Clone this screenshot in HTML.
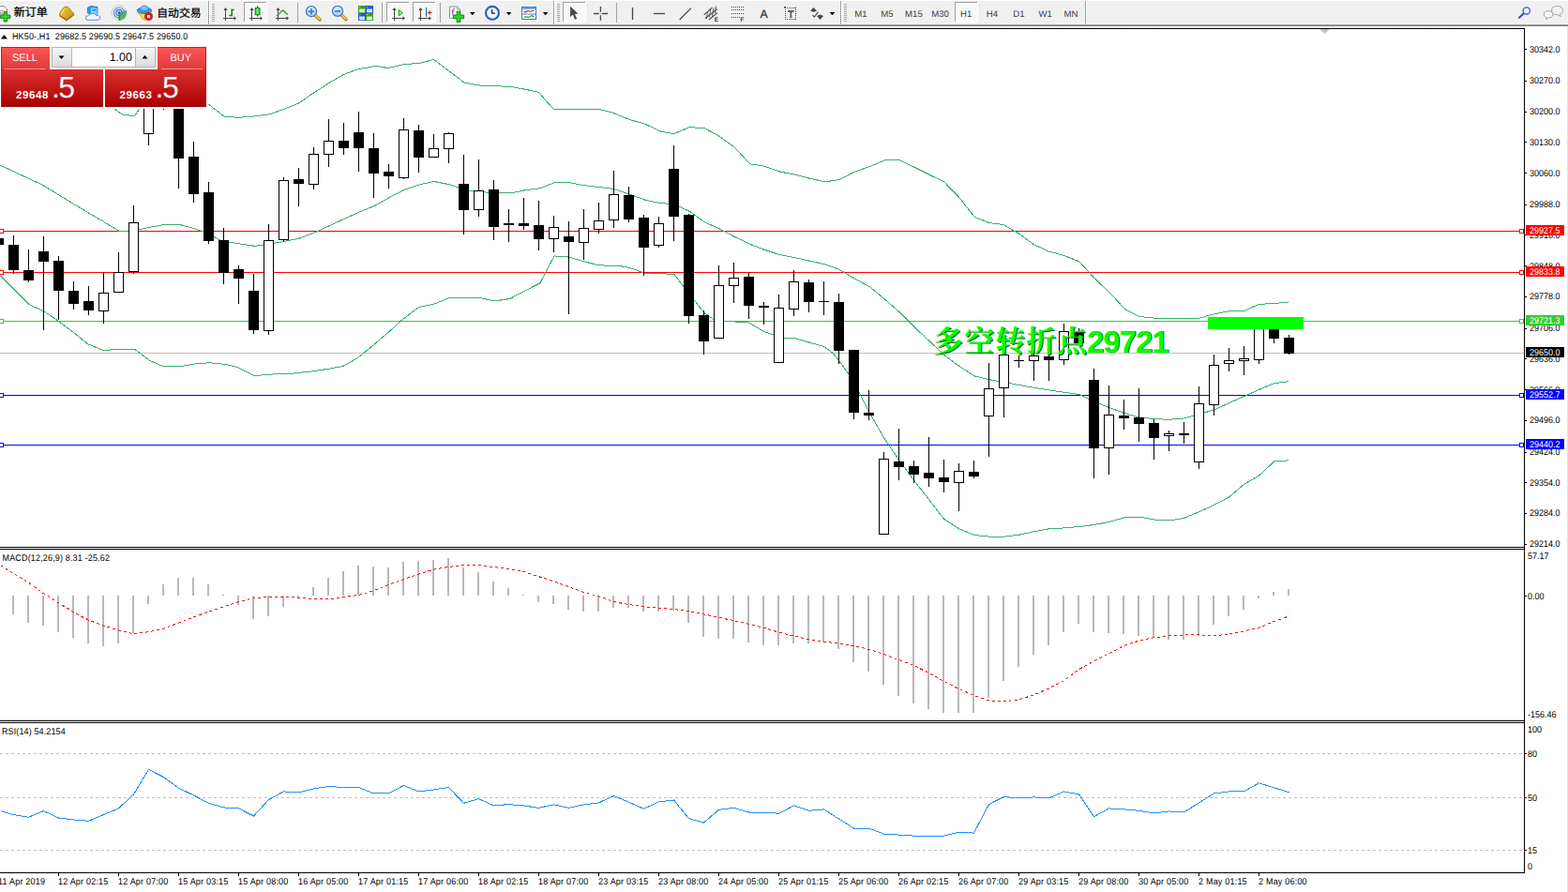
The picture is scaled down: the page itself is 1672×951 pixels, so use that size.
<!DOCTYPE html>
<html><head><meta charset="utf-8"><title>HK50 H1</title>
<style>
html,body{margin:0;padding:0;background:#fff;}
body{width:1672px;height:951px;overflow:hidden;position:relative;font-family:"Liberation Sans",sans-serif;}
#tb{position:absolute;left:0;top:0;width:1672px;height:30px;background:#fff;}
#tbbg{position:absolute;left:0;top:1px;width:1672px;height:25px;background:#f0f0f0;}
#tbsh{position:absolute;left:0;top:26px;width:1672px;height:2px;background:linear-gradient(#b4b4b4,#666666);}
svg{position:absolute;left:0;top:0;}
text{white-space:pre;text-rendering:geometricPrecision;}
</style></head><body>
<div id="tb"><div id="tbbg"></div><div id="tbsh"></div></div>
<svg id="chart" width="1672" height="951" viewBox="0 0 1672 951">
<g shape-rendering="crispEdges">
<rect x="0" y="246" width="1625" height="1" fill="#ff0000"/>
<rect x="0" y="290" width="1625" height="1" fill="#ff0000"/>
<rect x="0" y="342" width="1625" height="1" fill="#32cd32"/>
<rect x="0" y="376" width="1625" height="1" fill="#c0c0c0"/>
<rect x="0" y="421" width="1625" height="1" fill="#0000ff"/>
<rect x="0" y="474" width="1625" height="1" fill="#0000ff"/>
</g>
<polyline fill="none" shape-rendering="crispEdges" stroke="#38b070" stroke-width="1" points="121.9,115.9 130.1,121.8 143.4,123.9 147.8,117.4 158.5,100.5"/>
<polyline fill="none" shape-rendering="crispEdges" stroke="#38b070" stroke-width="1" points="206.5,96.5 222.0,110.9 239.1,124.2 253.8,125.3 270.5,124.0 287.7,121.8 302.5,116.5 318.6,110.0 334.5,99.0 354.0,86.5 366.5,79.5 380.5,74.1 401.1,70.3 413.8,72.6 430.0,68.8 447.6,67.3 462.4,63.5 478.5,75.5 494.8,87.9 509.5,90.9 526.5,91.7 544.8,92.4 558.5,95.0 574.3,98.2 590.5,116.8 606.5,116.8 622.5,116.8 640.5,116.8 653.8,120.3 671.5,127.7 686.2,131.5 705.4,140.4 718.6,142.7 734.8,135.7 751.0,136.5 767.2,145.4 783.4,157.2 799.6,174.8 813.8,176.8 831.4,183.0 847.6,186.2 862.5,190.0 880.0,193.9 894.8,191.5 911.0,183.3 927.2,177.7 943.4,170.9 959.5,170.9 974.5,178.0 990.5,186.0 1006.7,193.9 1022.9,210.6 1039.1,231.3 1055.3,237.7 1070.0,239.5 1086.2,248.9 1102.4,260.7 1118.6,268.1 1134.8,272.5 1151.0,279.0 1167.2,296.9 1183.4,312.3 1199.6,329.6 1215.0,337.5 1230.5,339.1 1246.5,339.1 1262.5,339.1 1278.7,339.1 1294.9,334.7 1311.0,331.7 1327.2,331.3 1342.3,324.3 1358.5,323.6 1374.5,321.8"/>
<polyline fill="none" shape-rendering="crispEdges" stroke="#38b070" stroke-width="1" points="0.5,176.3 14.5,182.8 30.5,190.3 44.7,196.9 62.5,207.7 78.5,217.5 94.5,227.0 110.5,236.5 127.2,246.4 142.5,246.4 158.5,242.5 174.3,239.6 192.0,239.6 206.5,243.5 222.5,249.0 236.1,256.7 254.5,259.8 271.5,262.3 286.5,260.5 302.5,257.5 318.5,254.4 336.3,247.6 350.5,241.0 366.5,233.7 382.5,226.3 400.5,219.0 414.5,211.0 430.0,202.8 447.6,196.9 462.4,193.4 480.0,196.9 494.8,202.2 509.5,204.3 527.2,205.8 544.8,205.8 559.5,202.8 575.8,200.8 590.5,194.9 606.7,194.6 621.4,197.5 638.5,199.5 653.8,201.3 671.5,207.2 687.7,213.1 703.9,216.7 718.6,217.5 736.3,225.8 751.0,236.7 766.5,243.5 782.5,252.0 799.6,260.3 814.5,266.0 831.4,271.6 847.6,274.6 862.5,278.0 880.0,281.9 894.8,287.2 911.0,296.9 927.2,305.5 943.4,319.0 959.5,333.0 975.8,349.5 992.0,364.5 1006.7,378.5 1024.4,391.5 1039.1,400.9 1055.3,404.8 1071.5,407.7 1087.7,410.6 1102.4,413.3 1118.6,416.0 1134.8,418.3 1151.0,420.5 1167.2,428.5 1183.4,434.7 1198.8,440.5 1215.0,445.0 1230.5,446.6 1246.5,447.3 1262.5,446.0 1278.7,441.5 1294.9,436.9 1311.0,429.5 1327.2,422.3 1342.3,415.5 1358.5,408.7 1374.5,406.7"/>
<polyline fill="none" shape-rendering="crispEdges" stroke="#38b070" stroke-width="1" points="0.5,293.8 14.5,308.0 31.4,324.8 47.6,332.1 62.4,342.4 78.5,354.5 93.3,366.6 111.0,373.9 124.2,372.2 143.4,372.2 159.5,384.3 174.3,390.7 192.0,390.7 212.5,387.2 224.4,386.9 240.5,388.4 252.3,391.3 271.5,400.8 283.3,399.3 296.5,398.8 309.8,398.4 322.5,397.0 336.3,395.5 350.5,393.2 365.7,390.5 380.5,382.2 398.1,368.0 414.5,354.0 427.0,342.4 446.2,327.7 463.8,323.9 478.5,317.7 494.5,317.7 512.4,317.7 527.2,320.9 543.4,318.6 558.5,310.7 575.8,301.8 591.0,272.9 606.7,274.1 622.9,278.8 638.8,282.9 659.7,283.3 672.0,285.6 687.7,291.3 703.9,291.5 719.0,292.6 735.0,313.5 751.0,333.6 762.8,341.8 774.6,342.4 798.1,343.9 815.2,353.8 832.9,359.8 847.6,360.7 862.5,365.0 878.5,369.5 888.9,376.9 905.1,398.9 918.3,422.4 927.2,440.1 943.4,468.1 959.5,491.7 975.8,513.7 992.0,534.4 1006.7,553.5 1022.9,563.8 1039.1,570.6 1055.3,572.1 1071.5,572.1 1086.2,570.3 1102.4,566.8 1118.6,563.8 1134.8,562.9 1151.0,561.5 1167.2,559.4 1183.4,556.3 1198.5,551.9 1218.5,551.8 1230.5,554.0 1246.5,555.0 1262.5,552.4 1278.5,545.8 1294.5,538.4 1310.5,530.0 1326.5,516.4 1342.5,507.1 1358.8,491.9 1374.5,490.8"/>
<g shape-rendering="crispEdges">
<rect x="-2" y="250" width="1" height="12" fill="#000"/>
<rect x="-7" y="254" width="11" height="7" fill="#000"/>
<rect x="14" y="251" width="1" height="41" fill="#000"/>
<rect x="9" y="261" width="11" height="27" fill="#000"/>
<rect x="30" y="266" width="1" height="35" fill="#000"/>
<rect x="25" y="288" width="11" height="11" fill="#000"/>
<rect x="46" y="252" width="1" height="100" fill="#000"/>
<rect x="41" y="268" width="11" height="11" fill="#000"/>
<rect x="62" y="273" width="1" height="68" fill="#000"/>
<rect x="57" y="278" width="11" height="32" fill="#000"/>
<rect x="78" y="300" width="1" height="30" fill="#000"/>
<rect x="73" y="310" width="11" height="14" fill="#000"/>
<rect x="94" y="305" width="1" height="31" fill="#000"/>
<rect x="89" y="321" width="11" height="10" fill="#000"/>
<rect x="110" y="291" width="1" height="54" fill="#000"/>
<rect x="105" y="312" width="11" height="20" fill="#000"/>
<rect x="106" y="313" width="9" height="18" fill="#fff"/>
<rect x="126" y="269" width="1" height="43" fill="#000"/>
<rect x="121" y="290" width="11" height="22" fill="#000"/>
<rect x="122" y="291" width="9" height="20" fill="#fff"/>
<rect x="142" y="219" width="1" height="73" fill="#000"/>
<rect x="137" y="237" width="11" height="53" fill="#000"/>
<rect x="138" y="238" width="9" height="51" fill="#fff"/>
<rect x="158" y="95" width="1" height="60" fill="#000"/>
<rect x="153" y="100" width="11" height="43" fill="#000"/>
<rect x="154" y="101" width="9" height="41" fill="#fff"/>
<rect x="174" y="95" width="1" height="22" fill="#000"/>
<rect x="169" y="100" width="11" height="12" fill="#000"/>
<rect x="190" y="95" width="1" height="106" fill="#000"/>
<rect x="185" y="100" width="11" height="69" fill="#000"/>
<rect x="206" y="151" width="1" height="65" fill="#000"/>
<rect x="201" y="167" width="11" height="40" fill="#000"/>
<rect x="222" y="194" width="1" height="66" fill="#000"/>
<rect x="217" y="205" width="11" height="52" fill="#000"/>
<rect x="238" y="243" width="1" height="60" fill="#000"/>
<rect x="233" y="256" width="11" height="35" fill="#000"/>
<rect x="254" y="283" width="1" height="41" fill="#000"/>
<rect x="249" y="287" width="11" height="10" fill="#000"/>
<rect x="270" y="292" width="1" height="64" fill="#000"/>
<rect x="265" y="310" width="11" height="42" fill="#000"/>
<rect x="286" y="239" width="1" height="118" fill="#000"/>
<rect x="281" y="256" width="11" height="97" fill="#000"/>
<rect x="282" y="257" width="9" height="95" fill="#fff"/>
<rect x="302" y="189" width="1" height="68" fill="#000"/>
<rect x="297" y="192" width="11" height="64" fill="#000"/>
<rect x="298" y="193" width="9" height="62" fill="#fff"/>
<rect x="318" y="179" width="1" height="41" fill="#000"/>
<rect x="313" y="191" width="11" height="5" fill="#000"/>
<rect x="334" y="157" width="1" height="45" fill="#000"/>
<rect x="329" y="164" width="11" height="33" fill="#000"/>
<rect x="330" y="165" width="9" height="31" fill="#fff"/>
<rect x="350" y="127" width="1" height="51" fill="#000"/>
<rect x="345" y="150" width="11" height="15" fill="#000"/>
<rect x="346" y="151" width="9" height="13" fill="#fff"/>
<rect x="366" y="131" width="1" height="34" fill="#000"/>
<rect x="361" y="150" width="11" height="8" fill="#000"/>
<rect x="382" y="119" width="1" height="64" fill="#000"/>
<rect x="377" y="141" width="11" height="17" fill="#000"/>
<rect x="398" y="142" width="1" height="69" fill="#000"/>
<rect x="393" y="158" width="11" height="27" fill="#000"/>
<rect x="414" y="175" width="1" height="26" fill="#000"/>
<rect x="409" y="183" width="11" height="5" fill="#000"/>
<rect x="430" y="126" width="1" height="65" fill="#000"/>
<rect x="425" y="138" width="11" height="52" fill="#000"/>
<rect x="426" y="139" width="9" height="50" fill="#fff"/>
<rect x="446" y="133" width="1" height="51" fill="#000"/>
<rect x="441" y="139" width="11" height="29" fill="#000"/>
<rect x="462" y="143" width="1" height="25" fill="#000"/>
<rect x="457" y="158" width="11" height="10" fill="#000"/>
<rect x="458" y="159" width="9" height="8" fill="#fff"/>
<rect x="478" y="141" width="1" height="33" fill="#000"/>
<rect x="473" y="142" width="11" height="17" fill="#000"/>
<rect x="474" y="143" width="9" height="15" fill="#fff"/>
<rect x="494" y="165" width="1" height="85" fill="#000"/>
<rect x="489" y="196" width="11" height="28" fill="#000"/>
<rect x="510" y="170" width="1" height="61" fill="#000"/>
<rect x="505" y="203" width="11" height="21" fill="#000"/>
<rect x="506" y="204" width="9" height="19" fill="#fff"/>
<rect x="526" y="192" width="1" height="64" fill="#000"/>
<rect x="521" y="202" width="11" height="40" fill="#000"/>
<rect x="542" y="223" width="1" height="35" fill="#000"/>
<rect x="537" y="238" width="11" height="2" fill="#000"/>
<rect x="558" y="211" width="1" height="34" fill="#000"/>
<rect x="553" y="238" width="11" height="3" fill="#000"/>
<rect x="574" y="214" width="1" height="53" fill="#000"/>
<rect x="569" y="240" width="11" height="15" fill="#000"/>
<rect x="590" y="230" width="1" height="39" fill="#000"/>
<rect x="585" y="242" width="11" height="13" fill="#000"/>
<rect x="586" y="243" width="9" height="11" fill="#fff"/>
<rect x="606" y="236" width="1" height="99" fill="#000"/>
<rect x="601" y="252" width="11" height="6" fill="#000"/>
<rect x="622" y="223" width="1" height="54" fill="#000"/>
<rect x="617" y="243" width="11" height="16" fill="#000"/>
<rect x="618" y="244" width="9" height="14" fill="#fff"/>
<rect x="638" y="216" width="1" height="33" fill="#000"/>
<rect x="633" y="235" width="11" height="10" fill="#000"/>
<rect x="634" y="236" width="9" height="8" fill="#fff"/>
<rect x="654" y="182" width="1" height="61" fill="#000"/>
<rect x="649" y="207" width="11" height="28" fill="#000"/>
<rect x="650" y="208" width="9" height="26" fill="#fff"/>
<rect x="670" y="199" width="1" height="38" fill="#000"/>
<rect x="665" y="208" width="11" height="26" fill="#000"/>
<rect x="686" y="229" width="1" height="65" fill="#000"/>
<rect x="681" y="232" width="11" height="32" fill="#000"/>
<rect x="702" y="231" width="1" height="33" fill="#000"/>
<rect x="697" y="238" width="11" height="24" fill="#000"/>
<rect x="698" y="239" width="9" height="22" fill="#fff"/>
<rect x="718" y="155" width="1" height="102" fill="#000"/>
<rect x="713" y="180" width="11" height="51" fill="#000"/>
<rect x="734" y="228" width="1" height="117" fill="#000"/>
<rect x="729" y="229" width="11" height="108" fill="#000"/>
<rect x="750" y="331" width="1" height="47" fill="#000"/>
<rect x="745" y="336" width="11" height="28" fill="#000"/>
<rect x="766" y="283" width="1" height="77" fill="#000"/>
<rect x="761" y="304" width="11" height="57" fill="#000"/>
<rect x="762" y="305" width="9" height="55" fill="#fff"/>
<rect x="782" y="280" width="1" height="43" fill="#000"/>
<rect x="777" y="296" width="11" height="9" fill="#000"/>
<rect x="778" y="297" width="9" height="7" fill="#fff"/>
<rect x="798" y="291" width="1" height="49" fill="#000"/>
<rect x="793" y="295" width="11" height="31" fill="#000"/>
<rect x="814" y="322" width="1" height="24" fill="#000"/>
<rect x="809" y="326" width="11" height="2" fill="#000"/>
<rect x="830" y="314" width="1" height="72" fill="#000"/>
<rect x="825" y="328" width="11" height="59" fill="#000"/>
<rect x="826" y="329" width="9" height="57" fill="#fff"/>
<rect x="846" y="288" width="1" height="49" fill="#000"/>
<rect x="841" y="300" width="11" height="30" fill="#000"/>
<rect x="842" y="301" width="9" height="28" fill="#fff"/>
<rect x="862" y="298" width="1" height="35" fill="#000"/>
<rect x="857" y="301" width="11" height="21" fill="#000"/>
<rect x="878" y="300" width="1" height="36" fill="#000"/>
<rect x="873" y="321" width="11" height="1" fill="#000"/>
<rect x="894" y="313" width="1" height="75" fill="#000"/>
<rect x="889" y="322" width="11" height="52" fill="#000"/>
<rect x="910" y="373" width="1" height="74" fill="#000"/>
<rect x="905" y="373" width="11" height="67" fill="#000"/>
<rect x="926" y="416" width="1" height="32" fill="#000"/>
<rect x="921" y="440" width="11" height="3" fill="#000"/>
<rect x="942" y="482" width="1" height="88" fill="#000"/>
<rect x="937" y="489" width="11" height="81" fill="#000"/>
<rect x="938" y="490" width="9" height="79" fill="#fff"/>
<rect x="958" y="457" width="1" height="55" fill="#000"/>
<rect x="953" y="492" width="11" height="6" fill="#000"/>
<rect x="974" y="491" width="1" height="24" fill="#000"/>
<rect x="969" y="497" width="11" height="9" fill="#000"/>
<rect x="990" y="466" width="1" height="53" fill="#000"/>
<rect x="985" y="504" width="11" height="6" fill="#000"/>
<rect x="1006" y="490" width="1" height="35" fill="#000"/>
<rect x="1001" y="509" width="11" height="5" fill="#000"/>
<rect x="1022" y="494" width="1" height="51" fill="#000"/>
<rect x="1017" y="502" width="11" height="13" fill="#000"/>
<rect x="1018" y="503" width="9" height="11" fill="#fff"/>
<rect x="1038" y="491" width="1" height="19" fill="#000"/>
<rect x="1033" y="503" width="11" height="5" fill="#000"/>
<rect x="1054" y="387" width="1" height="100" fill="#000"/>
<rect x="1049" y="414" width="11" height="30" fill="#000"/>
<rect x="1050" y="415" width="9" height="28" fill="#fff"/>
<rect x="1070" y="378" width="1" height="67" fill="#000"/>
<rect x="1065" y="378" width="11" height="36" fill="#000"/>
<rect x="1066" y="379" width="9" height="34" fill="#fff"/>
<rect x="1086" y="379" width="1" height="13" fill="#000"/>
<rect x="1081" y="384" width="11" height="1" fill="#000"/>
<rect x="1102" y="376" width="1" height="30" fill="#000"/>
<rect x="1097" y="379" width="11" height="6" fill="#000"/>
<rect x="1098" y="380" width="9" height="4" fill="#fff"/>
<rect x="1118" y="377" width="1" height="29" fill="#000"/>
<rect x="1113" y="380" width="11" height="4" fill="#000"/>
<rect x="1134" y="345" width="1" height="44" fill="#000"/>
<rect x="1129" y="353" width="11" height="31" fill="#000"/>
<rect x="1130" y="354" width="9" height="29" fill="#fff"/>
<rect x="1150" y="350" width="1" height="16" fill="#000"/>
<rect x="1145" y="353" width="11" height="13" fill="#000"/>
<rect x="1166" y="393" width="1" height="117" fill="#000"/>
<rect x="1161" y="405" width="11" height="73" fill="#000"/>
<rect x="1182" y="411" width="1" height="95" fill="#000"/>
<rect x="1177" y="442" width="11" height="36" fill="#000"/>
<rect x="1178" y="443" width="9" height="34" fill="#fff"/>
<rect x="1198" y="426" width="1" height="32" fill="#000"/>
<rect x="1193" y="443" width="11" height="3" fill="#000"/>
<rect x="1214" y="414" width="1" height="57" fill="#000"/>
<rect x="1209" y="445" width="11" height="7" fill="#000"/>
<rect x="1230" y="447" width="1" height="43" fill="#000"/>
<rect x="1225" y="451" width="11" height="16" fill="#000"/>
<rect x="1246" y="459" width="1" height="22" fill="#000"/>
<rect x="1241" y="462" width="11" height="3" fill="#000"/>
<rect x="1242" y="463" width="9" height="1" fill="#fff"/>
<rect x="1262" y="450" width="1" height="23" fill="#000"/>
<rect x="1257" y="462" width="11" height="2" fill="#000"/>
<rect x="1278" y="412" width="1" height="88" fill="#000"/>
<rect x="1273" y="430" width="11" height="63" fill="#000"/>
<rect x="1274" y="431" width="9" height="61" fill="#fff"/>
<rect x="1294" y="378" width="1" height="65" fill="#000"/>
<rect x="1289" y="389" width="11" height="43" fill="#000"/>
<rect x="1290" y="390" width="9" height="41" fill="#fff"/>
<rect x="1310" y="371" width="1" height="25" fill="#000"/>
<rect x="1305" y="384" width="11" height="4" fill="#000"/>
<rect x="1306" y="385" width="9" height="2" fill="#fff"/>
<rect x="1326" y="369" width="1" height="31" fill="#000"/>
<rect x="1321" y="382" width="11" height="3" fill="#000"/>
<rect x="1322" y="383" width="9" height="1" fill="#fff"/>
<rect x="1342" y="343" width="1" height="45" fill="#000"/>
<rect x="1337" y="344" width="11" height="40" fill="#000"/>
<rect x="1338" y="345" width="9" height="38" fill="#fff"/>
<rect x="1358" y="343" width="1" height="23" fill="#000"/>
<rect x="1353" y="344" width="11" height="17" fill="#000"/>
<rect x="1374" y="357" width="1" height="21" fill="#000"/>
<rect x="1369" y="360" width="11" height="17" fill="#000"/>
</g>
<rect x="1288" y="338" width="102" height="13" fill="#00ff00" shape-rendering="crispEdges"/>
<g shape-rendering="crispEdges">
<rect x="-1" y="244" width="5" height="5" fill="#ff0000"/><rect x="0" y="245" width="3" height="3" fill="#fff"/>
<rect x="1620" y="244" width="5" height="5" fill="#ff0000"/><rect x="1621" y="245" width="3" height="3" fill="#fff"/>
<rect x="-1" y="288" width="5" height="5" fill="#ff0000"/><rect x="0" y="289" width="3" height="3" fill="#fff"/>
<rect x="1620" y="288" width="5" height="5" fill="#ff0000"/><rect x="1621" y="289" width="3" height="3" fill="#fff"/>
<rect x="-1" y="340" width="5" height="5" fill="#32cd32"/><rect x="0" y="341" width="3" height="3" fill="#fff"/>
<rect x="1620" y="340" width="5" height="5" fill="#32cd32"/><rect x="1621" y="341" width="3" height="3" fill="#fff"/>
<rect x="-1" y="419" width="5" height="5" fill="#0000ff"/><rect x="0" y="420" width="3" height="3" fill="#fff"/>
<rect x="1620" y="419" width="5" height="5" fill="#0000ff"/><rect x="1621" y="420" width="3" height="3" fill="#fff"/>
<rect x="-1" y="472" width="5" height="5" fill="#0000ff"/><rect x="0" y="473" width="3" height="3" fill="#fff"/>
<rect x="1620" y="472" width="5" height="5" fill="#0000ff"/><rect x="1621" y="473" width="3" height="3" fill="#fff"/>
</g>
<text x="996.3" y="376.0" font-family='"Liberation Serif", "Noto Serif CJK SC", serif' font-weight="bold" font-size="32" letter-spacing="1" fill="#0a5a0a">多空转折点</text>
<text x="1159.8" y="376.3" font-family='"Liberation Sans", sans-serif' font-weight="bold" font-size="33" letter-spacing="-1.05" fill="#0a3a0a">29721</text>
<text x="995.3" y="375.0" font-family='"Liberation Serif", "Noto Serif CJK SC", serif' font-weight="bold" font-size="32" letter-spacing="1" fill="#00ff00">多空转折点</text>
<text x="1159.0" y="375.5" font-family='"Liberation Sans", sans-serif' font-weight="bold" font-size="33" letter-spacing="-1.05" fill="#00ff00">29721</text>
<g shape-rendering="crispEdges">
<rect x="13" y="635" width="2" height="20" fill="#b8b8b8"/>
<rect x="29" y="635" width="2" height="29" fill="#b8b8b8"/>
<rect x="45" y="635" width="2" height="32" fill="#b8b8b8"/>
<rect x="61" y="635" width="2" height="39" fill="#b8b8b8"/>
<rect x="77" y="635" width="2" height="45" fill="#b8b8b8"/>
<rect x="93" y="635" width="2" height="51" fill="#b8b8b8"/>
<rect x="109" y="635" width="2" height="54" fill="#b8b8b8"/>
<rect x="125" y="635" width="2" height="51" fill="#b8b8b8"/>
<rect x="141" y="635" width="2" height="40" fill="#b8b8b8"/>
<rect x="157" y="635" width="2" height="9" fill="#b8b8b8"/>
<rect x="173" y="623" width="2" height="12" fill="#b8b8b8"/>
<rect x="189" y="616" width="2" height="19" fill="#b8b8b8"/>
<rect x="205" y="616" width="2" height="19" fill="#b8b8b8"/>
<rect x="221" y="623" width="2" height="12" fill="#b8b8b8"/>
<rect x="237" y="634" width="2" height="1" fill="#b8b8b8"/>
<rect x="253" y="635" width="2" height="10" fill="#b8b8b8"/>
<rect x="269" y="635" width="2" height="25" fill="#b8b8b8"/>
<rect x="285" y="635" width="2" height="22" fill="#b8b8b8"/>
<rect x="301" y="635" width="2" height="12" fill="#b8b8b8"/>
<rect x="317" y="635" width="2" height="2" fill="#b8b8b8"/>
<rect x="333" y="626" width="2" height="9" fill="#b8b8b8"/>
<rect x="349" y="616" width="2" height="19" fill="#b8b8b8"/>
<rect x="365" y="609" width="2" height="26" fill="#b8b8b8"/>
<rect x="381" y="603" width="2" height="32" fill="#b8b8b8"/>
<rect x="397" y="604" width="2" height="31" fill="#b8b8b8"/>
<rect x="413" y="605" width="2" height="30" fill="#b8b8b8"/>
<rect x="429" y="599" width="2" height="36" fill="#b8b8b8"/>
<rect x="445" y="598" width="2" height="37" fill="#b8b8b8"/>
<rect x="461" y="597" width="2" height="38" fill="#b8b8b8"/>
<rect x="477" y="595" width="2" height="40" fill="#b8b8b8"/>
<rect x="493" y="605" width="2" height="30" fill="#b8b8b8"/>
<rect x="509" y="610" width="2" height="25" fill="#b8b8b8"/>
<rect x="525" y="620" width="2" height="15" fill="#b8b8b8"/>
<rect x="541" y="627" width="2" height="8" fill="#b8b8b8"/>
<rect x="557" y="634" width="2" height="1" fill="#b8b8b8"/>
<rect x="573" y="635" width="2" height="7" fill="#b8b8b8"/>
<rect x="589" y="635" width="2" height="9" fill="#b8b8b8"/>
<rect x="605" y="635" width="2" height="15" fill="#b8b8b8"/>
<rect x="621" y="635" width="2" height="17" fill="#b8b8b8"/>
<rect x="637" y="635" width="2" height="17" fill="#b8b8b8"/>
<rect x="653" y="635" width="2" height="13" fill="#b8b8b8"/>
<rect x="669" y="635" width="2" height="13" fill="#b8b8b8"/>
<rect x="685" y="635" width="2" height="17" fill="#b8b8b8"/>
<rect x="701" y="635" width="2" height="17" fill="#b8b8b8"/>
<rect x="717" y="635" width="2" height="16" fill="#b8b8b8"/>
<rect x="733" y="635" width="2" height="29" fill="#b8b8b8"/>
<rect x="749" y="635" width="2" height="44" fill="#b8b8b8"/>
<rect x="765" y="635" width="2" height="46" fill="#b8b8b8"/>
<rect x="781" y="635" width="2" height="46" fill="#b8b8b8"/>
<rect x="797" y="635" width="2" height="50" fill="#b8b8b8"/>
<rect x="813" y="635" width="2" height="53" fill="#b8b8b8"/>
<rect x="829" y="635" width="2" height="53" fill="#b8b8b8"/>
<rect x="845" y="635" width="2" height="51" fill="#b8b8b8"/>
<rect x="861" y="635" width="2" height="51" fill="#b8b8b8"/>
<rect x="877" y="635" width="2" height="49" fill="#b8b8b8"/>
<rect x="893" y="635" width="2" height="57" fill="#b8b8b8"/>
<rect x="909" y="635" width="2" height="71" fill="#b8b8b8"/>
<rect x="925" y="635" width="2" height="81" fill="#b8b8b8"/>
<rect x="941" y="635" width="2" height="95" fill="#b8b8b8"/>
<rect x="957" y="635" width="2" height="107" fill="#b8b8b8"/>
<rect x="973" y="635" width="2" height="115" fill="#b8b8b8"/>
<rect x="989" y="635" width="2" height="121" fill="#b8b8b8"/>
<rect x="1005" y="635" width="2" height="125" fill="#b8b8b8"/>
<rect x="1021" y="635" width="2" height="125" fill="#b8b8b8"/>
<rect x="1037" y="635" width="2" height="125" fill="#b8b8b8"/>
<rect x="1053" y="635" width="2" height="109" fill="#b8b8b8"/>
<rect x="1069" y="635" width="2" height="91" fill="#b8b8b8"/>
<rect x="1085" y="635" width="2" height="76" fill="#b8b8b8"/>
<rect x="1101" y="635" width="2" height="63" fill="#b8b8b8"/>
<rect x="1117" y="635" width="2" height="53" fill="#b8b8b8"/>
<rect x="1133" y="635" width="2" height="39" fill="#b8b8b8"/>
<rect x="1149" y="635" width="2" height="30" fill="#b8b8b8"/>
<rect x="1165" y="635" width="2" height="39" fill="#b8b8b8"/>
<rect x="1181" y="635" width="2" height="40" fill="#b8b8b8"/>
<rect x="1197" y="635" width="2" height="41" fill="#b8b8b8"/>
<rect x="1213" y="635" width="2" height="43" fill="#b8b8b8"/>
<rect x="1229" y="635" width="2" height="45" fill="#b8b8b8"/>
<rect x="1245" y="635" width="2" height="47" fill="#b8b8b8"/>
<rect x="1261" y="635" width="2" height="47" fill="#b8b8b8"/>
<rect x="1277" y="635" width="2" height="43" fill="#b8b8b8"/>
<rect x="1293" y="635" width="2" height="31" fill="#b8b8b8"/>
<rect x="1309" y="635" width="2" height="22" fill="#b8b8b8"/>
<rect x="1325" y="635" width="2" height="15" fill="#b8b8b8"/>
<rect x="1341" y="635" width="2" height="3" fill="#b8b8b8"/>
<rect x="1357" y="631" width="2" height="4" fill="#b8b8b8"/>
<rect x="1373" y="628" width="2" height="7" fill="#b8b8b8"/>
</g>
<polyline fill="none" shape-rendering="crispEdges" stroke="#ff0000" stroke-width="1" stroke-dasharray="3 3" points="0.5,602.6 14.5,611.4 30.5,621.4 46.5,632.7 62.5,642.8 78.5,652.8 94.5,661.1 110.5,667.2 126.5,671.9 142.5,675.9 158.5,673.7 174.5,670.2 190.5,664.1 206.5,657.9 222.5,652.1 238.5,646.8 254.5,641.5 270.5,637.8 286.5,636.0 302.5,636.0 318.5,637.3 334.5,638.8 350.5,638.8 366.5,636.5 382.5,634.5 398.5,629.7 414.5,623.4 430.5,617.7 446.5,612.1 462.5,607.1 478.5,604.4 494.5,602.6 510.5,602.6 526.5,604.6 542.5,606.4 558.5,609.6 574.5,614.7 590.5,619.7 606.5,625.7 622.5,631.5 638.5,635.8 654.5,641.5 670.5,644.5 686.5,646.6 702.5,648.3 718.5,649.6 734.5,651.6 750.5,654.8 766.5,658.4 782.5,661.6 798.5,665.4 814.5,669.4 830.5,674.2 846.5,678.0 862.5,681.7 878.5,684.2 894.5,686.0 910.5,688.5 926.5,692.3 942.5,697.5 958.5,703.6 974.5,709.4 990.5,717.6 1006.5,726.2 1022.5,734.5 1038.5,741.5 1054.5,746.8 1070.5,747.8 1086.5,745.8 1102.5,740.8 1118.5,734.0 1134.5,725.7 1150.5,713.6 1166.5,704.8 1182.5,696.8 1198.5,688.5 1214.5,683.0 1230.5,679.7 1246.5,678.0 1262.5,676.9 1278.5,676.9 1294.5,678.0 1310.5,675.9 1326.5,672.9 1342.5,669.2 1358.5,662.4 1374.5,657.0"/>
<g>
<line x1="0" x2="1625" y1="803.5" y2="803.5" stroke="#c0c0c0" stroke-width="1" stroke-dasharray="3 3" shape-rendering="crispEdges"/>
<line x1="0" x2="1625" y1="850.5" y2="850.5" stroke="#c0c0c0" stroke-width="1" stroke-dasharray="3 3" shape-rendering="crispEdges"/>
<line x1="0" x2="1625" y1="906.5" y2="906.5" stroke="#c0c0c0" stroke-width="1" stroke-dasharray="3 3" shape-rendering="crispEdges"/>
</g>
<polyline fill="none" shape-rendering="crispEdges" stroke="#1e90ff" stroke-width="1" points="0.5,864.6 14.5,868.6 30.5,871.3 46.5,864.6 62.5,872.0 78.5,874.0 94.5,875.3 110.5,868.6 126.5,861.9 142.5,846.9 158.5,820.4 174.5,828.5 190.5,840.2 206.5,847.9 222.5,856.3 238.5,860.9 254.5,861.9 270.5,870.0 286.5,852.6 302.5,843.9 318.5,844.9 334.5,840.8 350.5,838.5 366.5,839.5 382.5,839.5 398.5,845.9 414.5,845.9 430.5,837.5 446.5,843.9 462.5,841.9 478.5,839.5 494.5,856.3 510.5,851.6 526.5,858.9 542.5,857.6 558.5,859.0 574.5,861.3 590.5,857.9 606.5,861.3 622.5,857.9 638.5,855.9 654.5,848.5 670.5,855.2 686.5,862.3 702.5,854.9 718.5,852.9 734.5,872.7 750.5,877.0 766.5,863.3 782.5,861.3 798.5,866.0 814.5,866.0 830.5,867.3 846.5,858.9 862.5,864.3 878.5,862.9 894.5,873.0 910.5,883.0 926.5,883.0 942.5,889.1 958.5,890.1 974.5,891.1 990.5,891.1 1006.5,891.1 1022.5,887.1 1038.5,888.1 1054.5,857.6 1070.5,849.5 1086.5,850.9 1102.5,849.9 1118.5,850.9 1134.5,843.9 1150.5,846.9 1166.5,870.7 1182.5,861.9 1198.5,862.9 1214.5,864.3 1230.5,867.0 1246.5,865.0 1262.5,866.0 1278.5,855.9 1294.5,845.9 1310.5,843.9 1326.5,843.9 1342.5,834.8 1358.5,839.8 1374.5,844.7"/>
<g shape-rendering="crispEdges" fill="#000">
<rect x="0" y="30" width="1626" height="1"/>
<rect x="1625" y="30" width="1" height="901"/>
<rect x="0" y="583" width="1626" height="1"/>
<rect x="0" y="585" width="1626" height="1"/>
<rect x="0" y="768" width="1626" height="1"/>
<rect x="0" y="770" width="1626" height="1"/>
<rect x="0" y="930" width="1626" height="1"/>
<rect x="-2" y="931" width="1" height="3"/>
<rect x="62" y="931" width="1" height="3"/>
<rect x="126" y="931" width="1" height="3"/>
<rect x="190" y="931" width="1" height="3"/>
<rect x="254" y="931" width="1" height="3"/>
<rect x="318" y="931" width="1" height="3"/>
<rect x="382" y="931" width="1" height="3"/>
<rect x="446" y="931" width="1" height="3"/>
<rect x="510" y="931" width="1" height="3"/>
<rect x="574" y="931" width="1" height="3"/>
<rect x="638" y="931" width="1" height="3"/>
<rect x="702" y="931" width="1" height="3"/>
<rect x="766" y="931" width="1" height="3"/>
<rect x="830" y="931" width="1" height="3"/>
<rect x="894" y="931" width="1" height="3"/>
<rect x="958" y="931" width="1" height="3"/>
<rect x="1022" y="931" width="1" height="3"/>
<rect x="1086" y="931" width="1" height="3"/>
<rect x="1150" y="931" width="1" height="3"/>
<rect x="1214" y="931" width="1" height="3"/>
<rect x="1278" y="931" width="1" height="3"/>
<rect x="1342" y="931" width="1" height="3"/>
</g>
<g shape-rendering="crispEdges" fill="#000">
<rect x="1626" y="52" width="2" height="1"/>
<rect x="1626" y="86" width="2" height="1"/>
<rect x="1626" y="119" width="2" height="1"/>
<rect x="1626" y="151" width="2" height="1"/>
<rect x="1626" y="184" width="2" height="1"/>
<rect x="1626" y="218" width="2" height="1"/>
<rect x="1626" y="250" width="2" height="1"/>
<rect x="1626" y="283" width="2" height="1"/>
<rect x="1626" y="316" width="2" height="1"/>
<rect x="1626" y="350" width="2" height="1"/>
<rect x="1626" y="382" width="2" height="1"/>
<rect x="1626" y="415" width="2" height="1"/>
<rect x="1626" y="448" width="2" height="1"/>
<rect x="1626" y="482" width="2" height="1"/>
<rect x="1626" y="514" width="2" height="1"/>
<rect x="1626" y="547" width="2" height="1"/>
<rect x="1626" y="580" width="2" height="1"/>
<rect x="1626" y="635" width="2" height="1"/>
<rect x="1626" y="803" width="2" height="1"/>
<rect x="1626" y="850" width="2" height="1"/>
<rect x="1626" y="906" width="2" height="1"/>
</g>
<text transform="translate(1631.0,55.6) scale(0.918,1)" font-family='"Liberation Sans", sans-serif' font-size="9.8" fill="#000" text-anchor="start" font-weight="normal" >30342.0</text>
<text transform="translate(1631.0,89.3) scale(0.918,1)" font-family='"Liberation Sans", sans-serif' font-size="9.8" fill="#000" text-anchor="start" font-weight="normal" >30270.0</text>
<text transform="translate(1631.0,122.0) scale(0.918,1)" font-family='"Liberation Sans", sans-serif' font-size="9.8" fill="#000" text-anchor="start" font-weight="normal" >30200.0</text>
<text transform="translate(1631.0,154.7) scale(0.918,1)" font-family='"Liberation Sans", sans-serif' font-size="9.8" fill="#000" text-anchor="start" font-weight="normal" >30130.0</text>
<text transform="translate(1631.0,187.5) scale(0.918,1)" font-family='"Liberation Sans", sans-serif' font-size="9.8" fill="#000" text-anchor="start" font-weight="normal" >30060.0</text>
<text transform="translate(1631.0,221.1) scale(0.918,1)" font-family='"Liberation Sans", sans-serif' font-size="9.8" fill="#000" text-anchor="start" font-weight="normal" >29988.0</text>
<text transform="translate(1631.0,253.9) scale(0.918,1)" font-family='"Liberation Sans", sans-serif' font-size="9.8" fill="#000" text-anchor="start" font-weight="normal" >29918.0</text>
<text transform="translate(1631.0,286.6) scale(0.918,1)" font-family='"Liberation Sans", sans-serif' font-size="9.8" fill="#000" text-anchor="start" font-weight="normal" >29848.0</text>
<text transform="translate(1631.0,319.4) scale(0.918,1)" font-family='"Liberation Sans", sans-serif' font-size="9.8" fill="#000" text-anchor="start" font-weight="normal" >29778.0</text>
<text transform="translate(1631.0,353.0) scale(0.918,1)" font-family='"Liberation Sans", sans-serif' font-size="9.8" fill="#000" text-anchor="start" font-weight="normal" >29706.0</text>
<text transform="translate(1631.0,385.8) scale(0.918,1)" font-family='"Liberation Sans", sans-serif' font-size="9.8" fill="#000" text-anchor="start" font-weight="normal" >29636.0</text>
<text transform="translate(1631.0,418.5) scale(0.918,1)" font-family='"Liberation Sans", sans-serif' font-size="9.8" fill="#000" text-anchor="start" font-weight="normal" >29566.0</text>
<text transform="translate(1631.0,451.2) scale(0.918,1)" font-family='"Liberation Sans", sans-serif' font-size="9.8" fill="#000" text-anchor="start" font-weight="normal" >29496.0</text>
<text transform="translate(1631.0,484.9) scale(0.918,1)" font-family='"Liberation Sans", sans-serif' font-size="9.8" fill="#000" text-anchor="start" font-weight="normal" >29424.0</text>
<text transform="translate(1631.0,517.6) scale(0.918,1)" font-family='"Liberation Sans", sans-serif' font-size="9.8" fill="#000" text-anchor="start" font-weight="normal" >29354.0</text>
<text transform="translate(1631.0,550.4) scale(0.918,1)" font-family='"Liberation Sans", sans-serif' font-size="9.8" fill="#000" text-anchor="start" font-weight="normal" >29284.0</text>
<text transform="translate(1631.0,583.1) scale(0.918,1)" font-family='"Liberation Sans", sans-serif' font-size="9.8" fill="#000" text-anchor="start" font-weight="normal" >29214.0</text>
<text transform="translate(1629.0,596.0) scale(0.918,1)" font-family='"Liberation Sans", sans-serif' font-size="9.8" fill="#000" text-anchor="start" font-weight="normal" >57.17</text>
<text transform="translate(1629.0,638.8) scale(0.918,1)" font-family='"Liberation Sans", sans-serif' font-size="9.8" fill="#000" text-anchor="start" font-weight="normal" >0.00</text>
<text transform="translate(1629.0,765.0) scale(0.918,1)" font-family='"Liberation Sans", sans-serif' font-size="9.8" fill="#000" text-anchor="start" font-weight="normal" >-156.46</text>
<text transform="translate(1629.0,781.0) scale(0.918,1)" font-family='"Liberation Sans", sans-serif' font-size="9.8" fill="#000" text-anchor="start" font-weight="normal" >100</text>
<text transform="translate(1629.0,806.8) scale(0.918,1)" font-family='"Liberation Sans", sans-serif' font-size="9.8" fill="#000" text-anchor="start" font-weight="normal" >80</text>
<text transform="translate(1629.0,853.8) scale(0.918,1)" font-family='"Liberation Sans", sans-serif' font-size="9.8" fill="#000" text-anchor="start" font-weight="normal" >50</text>
<text transform="translate(1629.0,910.0) scale(0.918,1)" font-family='"Liberation Sans", sans-serif' font-size="9.8" fill="#000" text-anchor="start" font-weight="normal" >15</text>
<text transform="translate(1629.0,927.0) scale(0.918,1)" font-family='"Liberation Sans", sans-serif' font-size="9.8" fill="#000" text-anchor="start" font-weight="normal" >0</text>
<rect x="1627" y="240" width="41" height="11" fill="#ff0000" shape-rendering="crispEdges"/>
<text transform="translate(1631.0,249.0) scale(0.918,1)" font-family='"Liberation Sans", sans-serif' font-size="9.8" fill="#fff" text-anchor="start" font-weight="normal" >29927.5</text>
<rect x="1627" y="284" width="41" height="11" fill="#ff0000" shape-rendering="crispEdges"/>
<text transform="translate(1631.0,293.0) scale(0.918,1)" font-family='"Liberation Sans", sans-serif' font-size="9.8" fill="#fff" text-anchor="start" font-weight="normal" >29833.8</text>
<rect x="1627" y="336" width="41" height="11" fill="#32cd32" shape-rendering="crispEdges"/>
<text transform="translate(1631.0,345.0) scale(0.918,1)" font-family='"Liberation Sans", sans-serif' font-size="9.8" fill="#fff" text-anchor="start" font-weight="normal" >29721.3</text>
<rect x="1627" y="370" width="41" height="11" fill="#000" shape-rendering="crispEdges"/>
<text transform="translate(1631.0,379.0) scale(0.918,1)" font-family='"Liberation Sans", sans-serif' font-size="9.8" fill="#fff" text-anchor="start" font-weight="normal" >29650.0</text>
<rect x="1627" y="415" width="41" height="11" fill="#0000ff" shape-rendering="crispEdges"/>
<text transform="translate(1631.0,424.0) scale(0.918,1)" font-family='"Liberation Sans", sans-serif' font-size="9.8" fill="#fff" text-anchor="start" font-weight="normal" >29552.7</text>
<rect x="1627" y="468" width="41" height="11" fill="#0000ff" shape-rendering="crispEdges"/>
<text transform="translate(1631.0,477.0) scale(0.918,1)" font-family='"Liberation Sans", sans-serif' font-size="9.8" fill="#fff" text-anchor="start" font-weight="normal" >29440.2</text>
<text transform="translate(-2.0,942.8) scale(0.918,1)" font-family='"Liberation Sans", sans-serif' font-size="9.8" fill="#000" text-anchor="start" font-weight="normal" letter-spacing="0.23">11 Apr 2019</text>
<text transform="translate(62.0,942.8) scale(0.918,1)" font-family='"Liberation Sans", sans-serif' font-size="9.8" fill="#000" text-anchor="start" font-weight="normal" letter-spacing="0.23">12 Apr 02:15</text>
<text transform="translate(126.0,942.8) scale(0.918,1)" font-family='"Liberation Sans", sans-serif' font-size="9.8" fill="#000" text-anchor="start" font-weight="normal" letter-spacing="0.23">12 Apr 07:00</text>
<text transform="translate(190.0,942.8) scale(0.918,1)" font-family='"Liberation Sans", sans-serif' font-size="9.8" fill="#000" text-anchor="start" font-weight="normal" letter-spacing="0.23">15 Apr 03:15</text>
<text transform="translate(254.0,942.8) scale(0.918,1)" font-family='"Liberation Sans", sans-serif' font-size="9.8" fill="#000" text-anchor="start" font-weight="normal" letter-spacing="0.23">15 Apr 08:00</text>
<text transform="translate(318.0,942.8) scale(0.918,1)" font-family='"Liberation Sans", sans-serif' font-size="9.8" fill="#000" text-anchor="start" font-weight="normal" letter-spacing="0.23">16 Apr 05:00</text>
<text transform="translate(382.0,942.8) scale(0.918,1)" font-family='"Liberation Sans", sans-serif' font-size="9.8" fill="#000" text-anchor="start" font-weight="normal" letter-spacing="0.23">17 Apr 01:15</text>
<text transform="translate(446.0,942.8) scale(0.918,1)" font-family='"Liberation Sans", sans-serif' font-size="9.8" fill="#000" text-anchor="start" font-weight="normal" letter-spacing="0.23">17 Apr 06:00</text>
<text transform="translate(510.0,942.8) scale(0.918,1)" font-family='"Liberation Sans", sans-serif' font-size="9.8" fill="#000" text-anchor="start" font-weight="normal" letter-spacing="0.23">18 Apr 02:15</text>
<text transform="translate(574.0,942.8) scale(0.918,1)" font-family='"Liberation Sans", sans-serif' font-size="9.8" fill="#000" text-anchor="start" font-weight="normal" letter-spacing="0.23">18 Apr 07:00</text>
<text transform="translate(638.0,942.8) scale(0.918,1)" font-family='"Liberation Sans", sans-serif' font-size="9.8" fill="#000" text-anchor="start" font-weight="normal" letter-spacing="0.23">23 Apr 03:15</text>
<text transform="translate(702.0,942.8) scale(0.918,1)" font-family='"Liberation Sans", sans-serif' font-size="9.8" fill="#000" text-anchor="start" font-weight="normal" letter-spacing="0.23">23 Apr 08:00</text>
<text transform="translate(766.0,942.8) scale(0.918,1)" font-family='"Liberation Sans", sans-serif' font-size="9.8" fill="#000" text-anchor="start" font-weight="normal" letter-spacing="0.23">24 Apr 05:00</text>
<text transform="translate(830.0,942.8) scale(0.918,1)" font-family='"Liberation Sans", sans-serif' font-size="9.8" fill="#000" text-anchor="start" font-weight="normal" letter-spacing="0.23">25 Apr 01:15</text>
<text transform="translate(894.0,942.8) scale(0.918,1)" font-family='"Liberation Sans", sans-serif' font-size="9.8" fill="#000" text-anchor="start" font-weight="normal" letter-spacing="0.23">25 Apr 06:00</text>
<text transform="translate(958.0,942.8) scale(0.918,1)" font-family='"Liberation Sans", sans-serif' font-size="9.8" fill="#000" text-anchor="start" font-weight="normal" letter-spacing="0.23">26 Apr 02:15</text>
<text transform="translate(1022.0,942.8) scale(0.918,1)" font-family='"Liberation Sans", sans-serif' font-size="9.8" fill="#000" text-anchor="start" font-weight="normal" letter-spacing="0.23">26 Apr 07:00</text>
<text transform="translate(1086.0,942.8) scale(0.918,1)" font-family='"Liberation Sans", sans-serif' font-size="9.8" fill="#000" text-anchor="start" font-weight="normal" letter-spacing="0.23">29 Apr 03:15</text>
<text transform="translate(1150.0,942.8) scale(0.918,1)" font-family='"Liberation Sans", sans-serif' font-size="9.8" fill="#000" text-anchor="start" font-weight="normal" letter-spacing="0.23">29 Apr 08:00</text>
<text transform="translate(1214.0,942.8) scale(0.918,1)" font-family='"Liberation Sans", sans-serif' font-size="9.8" fill="#000" text-anchor="start" font-weight="normal" letter-spacing="0.23">30 Apr 05:00</text>
<text transform="translate(1278.0,942.8) scale(0.918,1)" font-family='"Liberation Sans", sans-serif' font-size="9.8" fill="#000" text-anchor="start" font-weight="normal" letter-spacing="0.23">2 May 01:15</text>
<text transform="translate(1342.0,942.8) scale(0.918,1)" font-family='"Liberation Sans", sans-serif' font-size="9.8" fill="#000" text-anchor="start" font-weight="normal" letter-spacing="0.23">2 May 06:00</text>
<path d="M1 41.5 L4.5 37 L8 41.5 Z" fill="#000"/>
<text transform="translate(13.0,42.0) scale(0.918,1)" font-family='"Liberation Sans", sans-serif' font-size="9.8" fill="#000" text-anchor="start" font-weight="normal" xml:space="preserve" letter-spacing="0.14">HK50-,H1&#160;&#160;29682.5 29690.5 29647.5 29650.0</text>
<text transform="translate(2.5,598.0) scale(0.918,1)" font-family='"Liberation Sans", sans-serif' font-size="9.8" fill="#000" text-anchor="start" font-weight="normal" letter-spacing="0.18">MACD(12,26,9) 8.31 -25.62</text>
<text transform="translate(2.0,783.0) scale(0.918,1)" font-family='"Liberation Sans", sans-serif' font-size="9.8" fill="#000" text-anchor="start" font-weight="normal" letter-spacing="0.13">RSI(14) 54.2154</text>
<path d="M1407.5 31 L1417.5 31 L1412.5 36.3 Z" fill="#c0c0c0"/>
<rect x="1671" y="28" width="1" height="923" fill="#e4e4e4"/>
<defs>
<linearGradient id="gTop" x1="0" y1="0" x2="0" y2="1"><stop offset="0" stop-color="#fb5555"/><stop offset="1" stop-color="#e23a3a"/></linearGradient>
<linearGradient id="gBot" x1="0" y1="0" x2="0" y2="1"><stop offset="0" stop-color="#d93030"/><stop offset="0.5" stop-color="#c41818"/><stop offset="1" stop-color="#a80000"/></linearGradient>
<linearGradient id="gBtn" x1="0" y1="0" x2="0" y2="1"><stop offset="0" stop-color="#f4f4f4"/><stop offset="1" stop-color="#dcdcdc"/></linearGradient>
</defs>
<g shape-rendering="crispEdges">
<rect x="0" y="48" width="222" height="68" fill="#fff"/>
<rect x="1" y="50" width="52" height="25" fill="url(#gTop)"/>
<rect x="168" y="50" width="52" height="25" fill="url(#gTop)"/>
<rect x="1" y="74" width="109" height="40" fill="url(#gBot)"/>
<rect x="112" y="74" width="108" height="40" fill="url(#gBot)"/>
<rect x="1" y="50" width="52" height="24" fill="url(#gTop)"/>
<rect x="168" y="50" width="52" height="24" fill="url(#gTop)"/>
<rect x="1" y="50" width="52" height="1" fill="#d02020"/><rect x="168" y="50" width="52" height="1" fill="#d02020"/>
<rect x="1" y="50" width="1" height="64" fill="#c81818"/><rect x="219" y="50" width="1" height="64" fill="#c81818"/>
<rect x="1" y="113" width="109" height="1" fill="#900000"/><rect x="112" y="113" width="108" height="1" fill="#900000"/>
<rect x="5" y="73" width="44" height="1" fill="#f79090"/><rect x="172" y="73" width="44" height="1" fill="#f79090"/>
<rect x="55" y="50" width="111" height="22" fill="#b4b4b4"/>
<rect x="56" y="51" width="20" height="20" fill="url(#gBtn)"/>
<rect x="145" y="51" width="20" height="20" fill="url(#gBtn)"/>
<rect x="77" y="51" width="67" height="20" fill="#fff"/>
</g>
<path d="M62.5 59.5 L68.5 59.5 L65.5 63 Z" fill="#000"/>
<path d="M151.5 62.5 L157.5 62.5 L154.5 59 Z" fill="#000"/>
<text x="13.0" y="65.0" font-family='"Liberation Sans", sans-serif' font-size="11" fill="#fff" text-anchor="start" font-weight="normal" letter-spacing="0">SELL</text>
<text x="181.5" y="65.0" font-family='"Liberation Sans", sans-serif' font-size="11" fill="#fff" text-anchor="start" font-weight="normal" letter-spacing="0">BUY</text>
<text x="141.0" y="64.5" font-family='"Liberation Sans", sans-serif' font-size="12.5" fill="#000" text-anchor="end" font-weight="normal" letter-spacing="0">1.00</text>
<text x="17.0" y="104.5" font-family='"Liberation Sans", sans-serif' font-size="11.5" fill="#fff" text-anchor="start" font-weight="bold" letter-spacing="0.6">29648</text>
<text x="127.5" y="104.5" font-family='"Liberation Sans", sans-serif' font-size="11.5" fill="#fff" text-anchor="start" font-weight="bold" letter-spacing="0.6">29663</text>
<text x="55.0" y="104.3" font-family='"Liberation Sans", sans-serif' font-size="32" fill="#fff" text-anchor="start" font-weight="normal" letter-spacing="0">.</text>
<text x="62.3" y="104.3" font-family='"Liberation Sans", sans-serif' font-size="32" fill="#fff" text-anchor="start" font-weight="normal" letter-spacing="0">5</text>
<text x="165.5" y="104.3" font-family='"Liberation Sans", sans-serif' font-size="32" fill="#fff" text-anchor="start" font-weight="normal" letter-spacing="0">.</text>
<text x="173.0" y="104.3" font-family='"Liberation Sans", sans-serif' font-size="32" fill="#fff" text-anchor="start" font-weight="normal" letter-spacing="0">5</text>
<defs><linearGradient id="gold" x1="0" y1="0" x2="1" y2="1"><stop offset="0" stop-color="#f6d040"/><stop offset="1" stop-color="#c08a10"/></linearGradient>
<linearGradient id="sky" x1="0" y1="0" x2="0" y2="1"><stop offset="0" stop-color="#e6f2fc"/><stop offset="1" stop-color="#a8cdf0"/></linearGradient>
<linearGradient id="grn" x1="0" y1="0" x2="1" y2="0"><stop offset="0" stop-color="#22c022"/><stop offset="0.5" stop-color="#7af07a"/><stop offset="1" stop-color="#22c022"/></linearGradient></defs>
<path d="M-1 6.5 H4.5 L7.5 9.5 V15 H-1 Z" fill="#f4f4f4" stroke="#909090" stroke-width="1"/>
<path d="M0 11.5 H4 M0 13.5 H3" stroke="#a0a0a0" stroke-width="1"/>
<path d="M4.2 12.6 h3.2 v3.6 h3.6 v3.2 h-3.6 v3.6 h-3.2 v-3.6 h-3.6 v-3.2 h3.6 Z" fill="#2fd42f" stroke="#0c8a0c" stroke-width="1"/>
<text x="14.8" y="17.3" font-family='"Liberation Sans", "Noto Sans CJK SC", sans-serif' font-size="12" fill="#000" stroke="#000" stroke-width="0.26">新订单</text>
<path d="M63.6 17.6 L70.8 22.4 L79.2 16.2 L79 15 L71 20.5 L63.4 16 Z" fill="#a8700e"/>
<path d="M63.3 16 Q64.2 11.8 68.2 8 Q69.6 6.9 71.6 7.1 L72.3 7.4 L79.1 15 L71 21 Z" fill="url(#gold)" stroke="#9a6410" stroke-width="0.8"/>
<path d="M65.2 15.6 Q66.2 12 69.3 9" fill="none" stroke="#fbe88a" stroke-width="1"/>
<path d="M93.5 8 L97 6.5 L104 7.5 L104 15 L97 16 L93.5 14 Z" fill="#28a0f0" stroke="#1470d0" stroke-width="0.8"/>
<path d="M97 8.5 L103.5 8.8 L103.5 15 L97 15.8 Z" fill="#8fd0fa"/>
<path d="M98.5 11 L102.5 10.6" stroke="#1470d0" stroke-width="1.2"/>
<path d="M94 21.3 Q91 21.3 91.3 18.8 Q91.6 16.6 94.3 16.8 Q95.5 14 98.8 14.4 Q101.5 14.3 102.3 16.5 Q106.8 16 106.8 19 Q106.8 21.3 104 21.3 Z" fill="#f2f6fc" stroke="#5a86c8" stroke-width="0.9"/>
<circle cx="127" cy="13.6" r="8" fill="none" stroke="#b8cdea" stroke-width="1"/>
<path d="M127 13.6 L127 21.6 A8 8 0 0 0 134.6 11 Z" fill="#58b058" opacity="0.85"/>
<circle cx="127" cy="13.6" r="5.6" fill="none" stroke="#5a82d8" stroke-width="1.2"/>
<circle cx="127" cy="13.6" r="3.2" fill="none" stroke="#3c68d0" stroke-width="1.2"/>
<path d="M127 13.6 L127 21.6 A8 8 0 0 0 134.6 11 Z" fill="#58b058" opacity="0.55"/>
<circle cx="127" cy="13.4" r="1.5" fill="#2858d8"/>
<rect x="126.4" y="14" width="1.4" height="7.8" fill="#18a018"/>
<path d="M147.3 13.6 L160.5 13.6 L158 18 L155 21.6 L152.5 20.5 Z" fill="#f6dc48" stroke="#c8a018" stroke-width="0.8"/>
<ellipse cx="154" cy="11.2" rx="7.8" ry="3.2" fill="#3c9ae0" stroke="#1e6ab8" stroke-width="0.8"/>
<path d="M149.5 10.5 Q150 6 154 6 Q158 6 158.5 10.5 Q154 12.5 149.5 10.5 Z" fill="#7cc4f4" stroke="#2a7ac8" stroke-width="0.7"/>
<circle cx="158.5" cy="17.6" r="4.1" fill="#e02010" stroke="#b01008" stroke-width="0.6"/>
<rect x="157" y="16.1" width="3" height="3" fill="#fff"/>
<text x="167.3" y="17.5" font-family='"Liberation Sans", "Noto Sans CJK SC", sans-serif' font-size="11.8" fill="#000" stroke="#000" stroke-width="0.26">自动交易</text>
<rect x="222" y="1" width="1" height="25" fill="#a0a0a0" shape-rendering="crispEdges"/><rect x="223" y="1" width="1" height="25" fill="#fff" shape-rendering="crispEdges"/>
<rect x="226" y="4" width="3" height="1" fill="#a8a8a8" shape-rendering="crispEdges"/>
<rect x="226" y="6" width="3" height="1" fill="#a8a8a8" shape-rendering="crispEdges"/>
<rect x="226" y="8" width="3" height="1" fill="#a8a8a8" shape-rendering="crispEdges"/>
<rect x="226" y="10" width="3" height="1" fill="#a8a8a8" shape-rendering="crispEdges"/>
<rect x="226" y="12" width="3" height="1" fill="#a8a8a8" shape-rendering="crispEdges"/>
<rect x="226" y="14" width="3" height="1" fill="#a8a8a8" shape-rendering="crispEdges"/>
<rect x="226" y="16" width="3" height="1" fill="#a8a8a8" shape-rendering="crispEdges"/>
<rect x="226" y="18" width="3" height="1" fill="#a8a8a8" shape-rendering="crispEdges"/>
<rect x="226" y="20" width="3" height="1" fill="#a8a8a8" shape-rendering="crispEdges"/>
<rect x="226" y="22" width="3" height="1" fill="#a8a8a8" shape-rendering="crispEdges"/>
<g fill="#484848" shape-rendering="crispEdges"><rect x="240" y="9" width="1" height="13"/><rect x="238" y="19" width="13" height="1"/></g>
<path d="M238.3 11 L240.5 8 L242.7 11 Z" fill="#484848"/>
<path d="M249.5 17.3 L252.0 19.5 L249.5 21.7 Z" fill="#484848"/>
<path d="M247.2 9.5 V17.2 M247.2 10.4 H249.6 M244.4 16.4 H247.2" stroke="#108010" stroke-width="1.5" fill="none"/>
<rect x="260" y="2" width="25" height="22" fill="#f8f8f8" shape-rendering="crispEdges"/>
<rect x="260" y="2" width="25" height="1" fill="#a0a0a0" shape-rendering="crispEdges"/><rect x="260" y="2" width="1" height="22" fill="#a0a0a0" shape-rendering="crispEdges"/>
<rect x="260" y="23" width="25" height="1" fill="#fff" shape-rendering="crispEdges"/><rect x="284" y="2" width="1" height="22" fill="#fff" shape-rendering="crispEdges"/>
<g fill="#484848" shape-rendering="crispEdges"><rect x="268" y="9" width="1" height="13"/><rect x="266" y="19" width="13" height="1"/></g>
<path d="M266.3 11 L268.5 8 L270.7 11 Z" fill="#484848"/>
<path d="M277.5 17.3 L280.0 19.5 L277.5 21.7 Z" fill="#484848"/>
<rect x="274" y="6.3" width="1.2" height="11.5" fill="#0a800a"/>
<rect x="272.2" y="8.5" width="4.8" height="7.2" fill="url(#grn)" stroke="#0a8a0a" stroke-width="1"/>
<g fill="#484848" shape-rendering="crispEdges"><rect x="296" y="9" width="1" height="13"/><rect x="294" y="19" width="13" height="1"/></g>
<path d="M294.3 11 L296.5 8 L298.7 11 Z" fill="#484848"/>
<path d="M305.5 17.3 L308.0 19.5 L305.5 21.7 Z" fill="#484848"/>
<path d="M295 17 Q298.5 14.5 300 12 Q301.5 10.5 303 12 Q305 14.5 307 15.5" stroke="#2a9a2a" stroke-width="1.3" fill="none"/>
<rect x="317" y="3" width="1" height="21" fill="#a0a0a0" shape-rendering="crispEdges"/>
<path d="M336.3 16.5 L341.0 21.0" stroke="#a87810" stroke-width="3.4" stroke-linecap="round"/>
<path d="M336.5 16.5 L340.8 20.6" stroke="#f0d048" stroke-width="1.8" stroke-linecap="round"/>
<circle cx="332.0" cy="12.2" r="5.5" fill="url(#sky)" stroke="#3a78d8" stroke-width="1.3"/>
<rect x="328.8" y="11.3" width="6.4" height="1.8" fill="#4a82b8"/>
<rect x="331.1" y="9.0" width="1.8" height="6.4" fill="#4a82b8"/>
<path d="M364.3 16.2 L369.0 20.7" stroke="#a87810" stroke-width="3.4" stroke-linecap="round"/>
<path d="M364.5 16.2 L368.8 20.3" stroke="#f0d048" stroke-width="1.8" stroke-linecap="round"/>
<circle cx="360.0" cy="11.9" r="5.5" fill="url(#sky)" stroke="#3a78d8" stroke-width="1.3"/>
<rect x="356.8" y="11.0" width="6.4" height="1.8" fill="#4a82b8"/>
<rect x="382" y="6" width="8" height="8" fill="#3c9c1c"/>
<rect x="383.2" y="9.6" width="5.6" height="3.6" fill="#fff"/>
<rect x="384.3" y="10.7" width="3.4" height="1" fill="#a8dc90"/>
<rect x="383.2" y="7.2" width="1" height="1" fill="#fff" opacity="0.8"/>
<rect x="390" y="6" width="8" height="8" fill="#2458d0"/>
<rect x="391.2" y="9.6" width="5.6" height="3.6" fill="#fff"/>
<rect x="392.3" y="10.7" width="3.4" height="1" fill="#a0bcf0"/>
<rect x="391.2" y="7.2" width="1" height="1" fill="#fff" opacity="0.8"/>
<rect x="382" y="14" width="8" height="8" fill="#2458d0"/>
<rect x="383.2" y="17.6" width="5.6" height="3.6" fill="#fff"/>
<rect x="384.3" y="18.7" width="3.4" height="1" fill="#a0bcf0"/>
<rect x="383.2" y="15.2" width="1" height="1" fill="#fff" opacity="0.8"/>
<rect x="390" y="14" width="8" height="8" fill="#3c9c1c"/>
<rect x="391.2" y="17.6" width="5.6" height="3.6" fill="#fff"/>
<rect x="392.3" y="18.7" width="3.4" height="1" fill="#a8dc90"/>
<rect x="391.2" y="15.2" width="1" height="1" fill="#fff" opacity="0.8"/>
<rect x="407" y="3" width="1" height="21" fill="#a0a0a0" shape-rendering="crispEdges"/>
<rect x="412" y="2" width="25" height="22" fill="#f8f8f8" shape-rendering="crispEdges"/>
<rect x="412" y="2" width="25" height="1" fill="#a0a0a0" shape-rendering="crispEdges"/><rect x="412" y="2" width="1" height="22" fill="#a0a0a0" shape-rendering="crispEdges"/>
<rect x="412" y="23" width="25" height="1" fill="#fff" shape-rendering="crispEdges"/><rect x="436" y="2" width="1" height="22" fill="#fff" shape-rendering="crispEdges"/>
<g fill="#484848" shape-rendering="crispEdges"><rect x="420" y="9" width="1" height="13"/><rect x="418" y="19" width="13" height="1"/></g>
<path d="M418.3 11 L420.5 8 L422.7 11 Z" fill="#484848"/>
<path d="M429.5 17.3 L432.0 19.5 L429.5 21.7 Z" fill="#484848"/>
<path d="M425.2 10.5 L429.3 13.7 L425.2 17 Z" fill="#8aec8a" stroke="#18a018" stroke-width="1"/>
<rect x="440" y="2" width="25" height="22" fill="#f8f8f8" shape-rendering="crispEdges"/>
<rect x="440" y="2" width="25" height="1" fill="#a0a0a0" shape-rendering="crispEdges"/><rect x="440" y="2" width="1" height="22" fill="#a0a0a0" shape-rendering="crispEdges"/>
<rect x="440" y="23" width="25" height="1" fill="#fff" shape-rendering="crispEdges"/><rect x="464" y="2" width="1" height="22" fill="#fff" shape-rendering="crispEdges"/>
<g fill="#484848" shape-rendering="crispEdges"><rect x="448" y="9" width="1" height="13"/><rect x="446" y="19" width="13" height="1"/></g>
<path d="M446.3 11 L448.5 8 L450.7 11 Z" fill="#484848"/>
<path d="M457.5 17.3 L460.0 19.5 L457.5 21.7 Z" fill="#484848"/>
<rect x="454" y="8" width="1.2" height="10" fill="#1a70b8"/>
<path d="M455.8 13.5 L458.8 11 L458.8 12.9 L460.8 12.9 L460.8 14.1 L458.8 14.1 L458.8 16 Z" fill="#d83808"/>
<rect x="469" y="3" width="1" height="21" fill="#a0a0a0" shape-rendering="crispEdges"/>
<path d="M479.5 7 H487.5 L490.5 10 V19.3 H479.5 Z" fill="#fafafa" stroke="#909090" stroke-width="1"/>
<path d="M487.5 7 V10 H490.5" fill="none" stroke="#909090" stroke-width="0.8"/>
<path d="M484.8 9.2 Q482.8 8.8 482.8 11 V16.5 M481.5 12 H484.5" stroke="#606060" stroke-width="0.9" fill="none"/>
<path d="M487.2 12.3 h3.6 v3.8 h3.8 v3.6 h-3.8 v3.8 h-3.6 v-3.8 h-3.8 v-3.6 h3.8 Z" fill="#2fd42f" stroke="#0c8a0c" stroke-width="1"/>
<path d="M501.0 13 L506.6 13 L503.8 16.2 Z" fill="#000"/>
<circle cx="525" cy="13.8" r="6.9" fill="#fff" stroke="#1862d0" stroke-width="2.2"/>
<circle cx="525" cy="13.8" r="5.6" fill="#f4f8fc" stroke="#9cc0ec" stroke-width="0.6"/>
<path d="M524.6 10 V14.2 H528" stroke="#202020" stroke-width="1.2" fill="none"/>
<path d="M539.8 13 L545.4 13 L542.6 16.2 Z" fill="#000"/>
<rect x="556.5" y="7.5" width="15" height="13" fill="#fff" stroke="#3a74d0" stroke-width="1"/>
<rect x="557" y="8" width="14" height="2" fill="#7aa8e8"/>
<rect x="557" y="14.6" width="14" height="0.9" fill="#3a74d0"/>
<path d="M558.5 13 L561 12.6 L563 11.5 L565.5 12.3 L569.5 11.2" stroke="#a82010" stroke-width="1.1" fill="none"/>
<path d="M559 18.4 L561.5 17.8 L563.5 18.5 L567 16.6 L569.5 18.3" stroke="#18901c" stroke-width="1.1" fill="none"/>
<path d="M578.8 13 L584.4 13 L581.6 16.2 Z" fill="#000"/>
<rect x="590" y="1" width="1" height="25" fill="#a0a0a0" shape-rendering="crispEdges"/><rect x="591" y="1" width="1" height="25" fill="#fff" shape-rendering="crispEdges"/>
<rect x="594" y="4" width="3" height="1" fill="#a8a8a8" shape-rendering="crispEdges"/>
<rect x="594" y="6" width="3" height="1" fill="#a8a8a8" shape-rendering="crispEdges"/>
<rect x="594" y="8" width="3" height="1" fill="#a8a8a8" shape-rendering="crispEdges"/>
<rect x="594" y="10" width="3" height="1" fill="#a8a8a8" shape-rendering="crispEdges"/>
<rect x="594" y="12" width="3" height="1" fill="#a8a8a8" shape-rendering="crispEdges"/>
<rect x="594" y="14" width="3" height="1" fill="#a8a8a8" shape-rendering="crispEdges"/>
<rect x="594" y="16" width="3" height="1" fill="#a8a8a8" shape-rendering="crispEdges"/>
<rect x="594" y="18" width="3" height="1" fill="#a8a8a8" shape-rendering="crispEdges"/>
<rect x="594" y="20" width="3" height="1" fill="#a8a8a8" shape-rendering="crispEdges"/>
<rect x="594" y="22" width="3" height="1" fill="#a8a8a8" shape-rendering="crispEdges"/>
<rect x="600" y="2" width="25" height="22" fill="#f8f8f8" shape-rendering="crispEdges"/>
<rect x="600" y="2" width="25" height="1" fill="#a0a0a0" shape-rendering="crispEdges"/><rect x="600" y="2" width="1" height="22" fill="#a0a0a0" shape-rendering="crispEdges"/>
<rect x="600" y="23" width="25" height="1" fill="#fff" shape-rendering="crispEdges"/><rect x="624" y="2" width="1" height="22" fill="#fff" shape-rendering="crispEdges"/>
<path d="M608.1 6.8 L608.1 18.2 L610.9 15.6 L613 20.8 L615.2 19.9 L613 14.9 L616.4 14.6 Z" fill="#484848"/>
<path d="M633 14.5 H638.8 M642 14.5 H648 M640.4 7 V12.8 M640.4 16.2 V21.8" stroke="#484848" stroke-width="1.3"/>
<rect x="640" y="14" width="1" height="1" fill="#909090"/>
<rect x="657" y="3" width="1" height="21" fill="#a0a0a0" shape-rendering="crispEdges"/>
<path d="M674.5 8 V21" stroke="#484848" stroke-width="1.3"/>
<path d="M697 14.5 H709" stroke="#484848" stroke-width="1.3"/>
<path d="M724.7 21 L737 8.6" stroke="#484848" stroke-width="1.3"/>
<path d="M750.6 15.8 L759.5 8 M751.8 19.6 L764.8 9.6 M756 21 L765 13.6" stroke="#484848" stroke-width="1.1" fill="none"/>
<path d="M754.5 12.5 L753.5 20 M757.8 10.5 L756.3 18.5 M761 8.5 L759.5 17.5 M763.3 6.5 L762.8 14.5" stroke="#484848" stroke-width="0.9" fill="none"/>
<text x="761.8" y="22.8" font-family='"Liberation Sans", sans-serif' font-size="6.5" font-weight="bold" fill="#303030">E</text>
<path d="M780 7.5 H793" stroke="#484848" stroke-width="1" stroke-dasharray="1 1"/>
<path d="M780 10.5 H793" stroke="#484848" stroke-width="1" stroke-dasharray="1 1"/>
<path d="M780 14.5 H793" stroke="#484848" stroke-width="1" stroke-dasharray="1 1"/>
<path d="M780 18.5 H789" stroke="#484848" stroke-width="1" stroke-dasharray="1 1"/>
<text x="789.6" y="22.8" font-family='"Liberation Sans", sans-serif' font-size="6.5" font-weight="bold" fill="#303030">F</text>
<text x="810.6" y="19.1" font-family='"Liberation Sans", sans-serif' font-size="12.2" fill="#484848" stroke="#484848" stroke-width="0.45">A</text>
<path d="M837 8.5 H849" stroke="#484848" stroke-width="1" stroke-dasharray="1 1" shape-rendering="crispEdges"/>
<path d="M837 20.5 H849" stroke="#484848" stroke-width="1" stroke-dasharray="1 1" shape-rendering="crispEdges"/>
<path d="M837.5 8 V21" stroke="#484848" stroke-width="1" stroke-dasharray="1 1" shape-rendering="crispEdges"/>
<path d="M848.5 8 V21" stroke="#484848" stroke-width="1" stroke-dasharray="1 1" shape-rendering="crispEdges"/>
<rect x="836" y="7" width="2" height="1.4" fill="#484848"/>
<text x="839.9" y="18.8" font-family='"Liberation Sans", sans-serif' font-size="10.8" fill="#484848" stroke="#484848" stroke-width="0.5">T</text>
<path d="M864 11.6 L867.5 7.9 L871 11.6 L867.5 13 Z" fill="#484848"/>
<path d="M871 17 L874.5 21 L878 17 L874.5 15.6 Z" fill="#484848"/>
<path d="M866.3 16.2 L868.5 18 L872.4 12.6" stroke="#484848" stroke-width="1.2" fill="none"/>
<path d="M884.7 13 L890.3 13 L887.5 16.2 Z" fill="#000"/>
<rect x="896" y="1" width="1" height="25" fill="#a0a0a0" shape-rendering="crispEdges"/><rect x="897" y="1" width="1" height="25" fill="#fff" shape-rendering="crispEdges"/>
<rect x="900" y="4" width="3" height="1" fill="#a8a8a8" shape-rendering="crispEdges"/>
<rect x="900" y="6" width="3" height="1" fill="#a8a8a8" shape-rendering="crispEdges"/>
<rect x="900" y="8" width="3" height="1" fill="#a8a8a8" shape-rendering="crispEdges"/>
<rect x="900" y="10" width="3" height="1" fill="#a8a8a8" shape-rendering="crispEdges"/>
<rect x="900" y="12" width="3" height="1" fill="#a8a8a8" shape-rendering="crispEdges"/>
<rect x="900" y="14" width="3" height="1" fill="#a8a8a8" shape-rendering="crispEdges"/>
<rect x="900" y="16" width="3" height="1" fill="#a8a8a8" shape-rendering="crispEdges"/>
<rect x="900" y="18" width="3" height="1" fill="#a8a8a8" shape-rendering="crispEdges"/>
<rect x="900" y="20" width="3" height="1" fill="#a8a8a8" shape-rendering="crispEdges"/>
<rect x="900" y="22" width="3" height="1" fill="#a8a8a8" shape-rendering="crispEdges"/>
<rect x="1018" y="2" width="25" height="22" fill="#f8f8f8" shape-rendering="crispEdges"/>
<rect x="1018" y="2" width="25" height="1" fill="#a0a0a0" shape-rendering="crispEdges"/><rect x="1018" y="2" width="1" height="22" fill="#a0a0a0" shape-rendering="crispEdges"/>
<rect x="1018" y="23" width="25" height="1" fill="#fff" shape-rendering="crispEdges"/><rect x="1042" y="2" width="1" height="22" fill="#fff" shape-rendering="crispEdges"/>
<text x="918.0" y="18.0" text-anchor="middle" font-family='"Liberation Sans", sans-serif' font-size="9.6" fill="#3c3c3c">M1</text>
<text x="946.0" y="18.0" text-anchor="middle" font-family='"Liberation Sans", sans-serif' font-size="9.6" fill="#3c3c3c">M5</text>
<text x="974.4" y="18.0" text-anchor="middle" font-family='"Liberation Sans", sans-serif' font-size="9.6" fill="#3c3c3c">M15</text>
<text x="1002.5" y="18.0" text-anchor="middle" font-family='"Liberation Sans", sans-serif' font-size="9.6" fill="#3c3c3c">M30</text>
<text x="1030.2" y="18.0" text-anchor="middle" font-family='"Liberation Sans", sans-serif' font-size="9.6" fill="#3c3c3c">H1</text>
<text x="1058.0" y="18.0" text-anchor="middle" font-family='"Liberation Sans", sans-serif' font-size="9.6" fill="#3c3c3c">H4</text>
<text x="1086.5" y="18.0" text-anchor="middle" font-family='"Liberation Sans", sans-serif' font-size="9.6" fill="#3c3c3c">D1</text>
<text x="1114.6" y="18.0" text-anchor="middle" font-family='"Liberation Sans", sans-serif' font-size="9.6" fill="#3c3c3c">W1</text>
<text x="1142.0" y="18.0" text-anchor="middle" font-family='"Liberation Sans", sans-serif' font-size="9.6" fill="#3c3c3c">MN</text>
<rect x="1157" y="1" width="1" height="25" fill="#a0a0a0" shape-rendering="crispEdges"/><rect x="1158" y="1" width="1" height="25" fill="#fff" shape-rendering="crispEdges"/>
<path d="M1625 14.2 L1620 18.8" stroke="#2a52c8" stroke-width="2.2" stroke-linecap="round"/>
<circle cx="1627.8" cy="11.4" r="3.6" fill="#f4f6fc" stroke="#2a5ad0" stroke-width="1.3"/>
<path d="M1654.5 11 A6 4.6 0 1 1 1663.3 15.2 L1664.3 17.6 L1661.3 15.8 A6 4.6 0 0 1 1654.5 11 Z" fill="#f2f2f6" stroke="#9a9a9a" stroke-width="0.9"/>
<path d="M1646.3 15.2 A4.8 3.7 0 1 1 1652.6 18.8 L1650 18.9 L1648.8 20.8 L1648.6 18.4 A4.8 3.7 0 0 1 1646.3 15.2 Z" fill="#f6f6f8" stroke="#9a9a9a" stroke-width="0.9"/>
</svg>
</body></html>
